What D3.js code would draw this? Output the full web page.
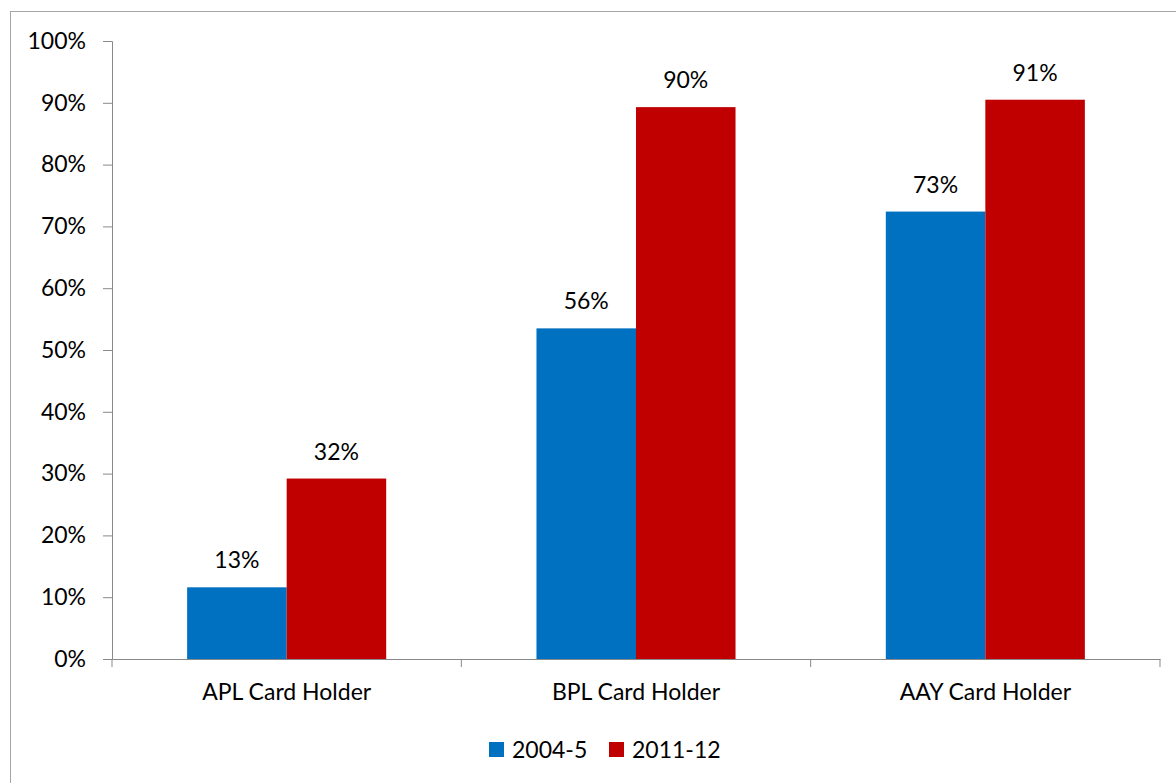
<!DOCTYPE html>
<html>
<head>
<meta charset="utf-8">
<script src="https://cdn.jsdelivr.net/npm/d3@7"></script>
<style>
  body { margin: 0; background: #fff; }
  svg { display: block; font-family: Lato, "Open Sans", sans-serif; }
</style>
</head>
<body>
<div id="chart"></div>
<script>
// Card holder share, two survey rounds
const categories = ["APL Card Holder", "BPL Card Holder", "AAY Card Holder"];
const seriesNames = ["2004-5", "2011-12"];
// bar heights as drawn in the picture
const values2004 = [0.116, 0.535, 0.724];
const values2011 = [0.292, 0.893, 0.905];
// printed data labels
const labels2004 = ["13%", "56%", "73%"];
const labels2011 = ["32%", "90%", "91%"];
const yTicks = [0, 0.1, 0.2, 0.3, 0.4, 0.5, 0.6, 0.7, 0.8, 0.9, 1.0];
const colors = ["#0070c0", "#c00000"];

const width = 1176, height = 783;
const margin = { left: 112, right: 16, top: 41, bottom: 124 };
const fontSize = "23px";

const svg = d3.select("#chart").append("svg")
    .attr("width", width)
    .attr("height", height);

// chart area border
svg.append("rect")
    .attr("x", 10.5).attr("y", 11.5)
    .attr("width", width + 20).attr("height", height + 20)
    .attr("fill", "none")
    .attr("stroke", "#a6a6a6")
    .attr("stroke-width", 1);

const x0 = d3.scaleBand()
    .domain(categories)
    .range([margin.left, width - margin.right]);

const x1 = d3.scaleBand()
    .domain(seriesNames)
    .range([0, x0.bandwidth()])
    .paddingOuter(0.755)
    .paddingInner(0);

const y = d3.scaleLinear()
    .domain([0, 1])
    .range([height - margin.bottom, margin.top]);

const rows = categories.map((c, i) => ({
    cat: c,
    vals: [
        { s: seriesNames[0], v: values2004[i], label: labels2004[i] },
        { s: seriesNames[1], v: values2011[i], label: labels2011[i] }
    ]
}));

const groups = svg.append("g").selectAll("g")
    .data(rows)
    .enter().append("g")
    .attr("transform", d => `translate(${x0(d.cat)},0)`);

groups.selectAll("rect")
    .data(d => d.vals)
    .enter().append("rect")
    .attr("x", d => x1(d.s))
    .attr("width", x1.bandwidth())
    .attr("y", d => y(d.v))
    .attr("height", d => y(0) - y(d.v))
    .attr("fill", (d, i) => colors[i]);

groups.selectAll("text")
    .data(d => d.vals)
    .enter().append("text")
    .attr("x", d => x1(d.s) + x1.bandwidth() / 2)
    .attr("y", d => y(d.v) - 19)
    .attr("text-anchor", "middle")
    .attr("font-size", fontSize)
    .attr("fill", "#000")
    .text(d => d.label);

// y axis
const yAxis = svg.append("g")
    .attr("transform", `translate(${margin.left},0)`)
    .call(d3.axisLeft(y).tickValues(yTicks).tickFormat(d3.format(".0%")).tickSizeOuter(0).tickSize(9).tickPadding(17));

// x axis
const xAxis = svg.append("g")
    .attr("transform", `translate(0,${y(0)})`)
    .call(d3.axisBottom(x0).tickSize(0).tickPadding(25));

xAxis.selectAll(".tick")
    .append("line")
    .attr("class", "sep")
    .attr("x1", x0.bandwidth() / 2).attr("x2", x0.bandwidth() / 2)
    .attr("y1", 0).attr("y2", 8);
xAxis.append("line")
    .attr("class", "sep")
    .attr("x1", margin.left).attr("x2", margin.left)
    .attr("y1", 0).attr("y2", 8);

[yAxis, xAxis].forEach(a => {
    a.select(".domain").attr("stroke", "#898989");
    a.selectAll("line").attr("stroke", "#898989");
    a.selectAll("text").attr("font-size", fontSize).attr("fill", "#000").attr("font-family", "Lato, sans-serif");
});
xAxis.selectAll(".tick text").attr("dy", "0.71em");

// legend
const legend = svg.append("g").attr("transform", "translate(489,742)");
const legendItems = legend.selectAll("g")
    .data(seriesNames)
    .enter().append("g")
    .attr("transform", (d, i) => `translate(${i * 120},0)`);
legendItems.append("rect")
    .attr("width", 15).attr("height", 15)
    .attr("fill", (d, i) => colors[i]);
legendItems.append("text")
    .attr("x", 23).attr("y", 7.5)
    .attr("dy", "0.35em")
    .attr("font-size", fontSize)
    .text(d => d);
</script>
</body>
</html>
